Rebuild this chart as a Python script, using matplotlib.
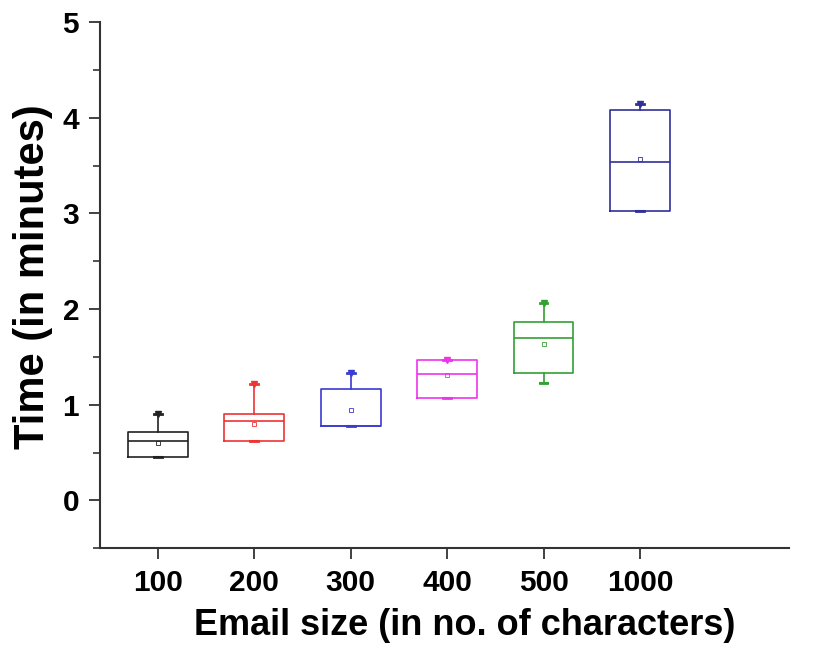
import numpy as np
import matplotlib.pyplot as plt
from matplotlib.ticker import MultipleLocator

# data (minutes)
sizes = ["100", "200", "300", "400", "500", "1000"]
q1 = [0.45, 0.62, 0.78, 1.07, 1.33, 3.03]
med = [0.62, 0.83, 0.78, 1.32, 1.70, 3.54]
q3 = [0.71, 0.90, 1.16, 1.47, 1.86, 4.08]
whislo = [0.45, 0.62, 0.78, 1.07, 1.23, 3.03]
whishi = [0.90, 1.22, 1.33, 1.47, 2.06, 4.14]
means = [0.60, 0.80, 0.94, 1.31, 1.63, 3.57]
colors = ["#222222", "#ee3333", "#3b3bd0", "#ee33ee", "#33a033", "#303098"]

plt.rcParams['font.family'] = ['Liberation Sans', 'DejaVu Sans']
plt.rcParams['font.weight'] = 'bold'

fig = plt.figure(figsize=(8.15, 6.51), dpi=100)
ax = fig.add_axes([0.1227, 0.158, 0.846, 0.808])

pos = np.arange(1, len(sizes) + 1)
for i, p in enumerate(pos):
    st = [{"q1": q1[i], "med": med[i], "q3": q3[i], "whislo": whislo[i],
           "whishi": whishi[i], "mean": means[i], "fliers": []}]
    c = colors[i]
    ax.bxp(st, positions=[p], widths=0.62, showmeans=True, capwidths=0.08,
           boxprops=dict(color=c, lw=1.2),
           medianprops=dict(color=c, lw=1.2),
           whiskerprops=dict(color=c, lw=1.2),
           capprops=dict(color=c, lw=2.0),
           meanprops=dict(marker="s", markersize=3.5, markerfacecolor="none",
                          markeredgecolor=c, markeredgewidth=0.6))
    # min / max markers
    ax.plot([p], [whishi[i]], marker="v", ms=5, color=c, ls="none")
    ax.plot([p], [whislo[i]], marker="_", ms=7, mew=1.5, color=c, ls="none")

ax.set_xlim(0.4, 7.55)
ax.set_ylim(-0.5, 5)
ax.set_xticks(pos)
ax.set_xticklabels(sizes)
ax.yaxis.set_major_locator(MultipleLocator(1))
ax.yaxis.set_minor_locator(MultipleLocator(0.5))

for s in ["top", "right"]:
    ax.spines[s].set_visible(False)
for s in ["left", "bottom"]:
    ax.spines[s].set_color("#333333")
    ax.spines[s].set_linewidth(1.5)

ax.tick_params(axis="both", which="major", direction="out", length=8, width=1.3,
               color="#333333", labelsize=21.5, pad=7)
ax.tick_params(axis="y", which="minor", direction="out", length=5, width=1.2, color="#333333")

ax.set_xlabel("Email size (in no. of characters)", fontsize=26, fontweight="bold")
ax.set_ylabel("Time (in minutes)", fontsize=30, fontweight="bold")
ax.xaxis.set_label_coords(0.529, -0.114)
ax.yaxis.set_label_coords(-0.068, 0.517)

fig.savefig("out.png", dpi=100)
